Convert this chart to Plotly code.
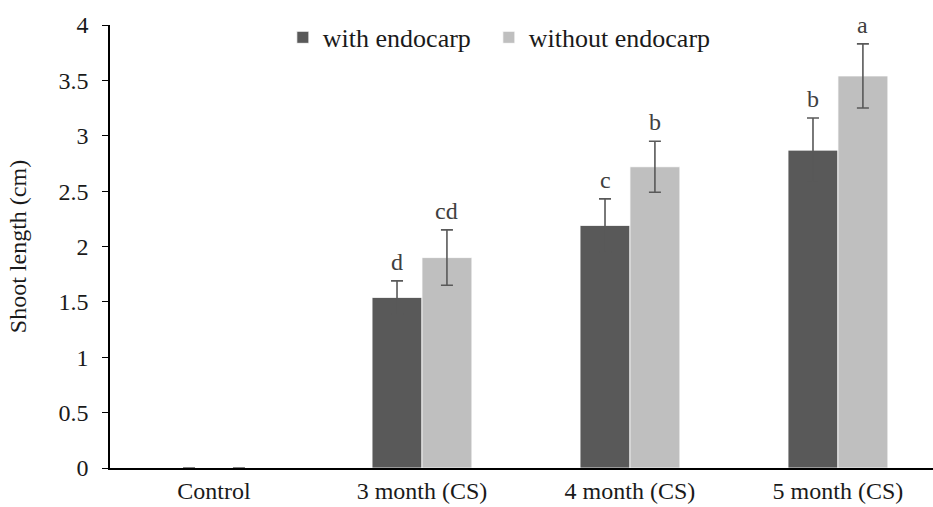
import plotly.graph_objects as go

# Shoot length by cold-stratification period, seeds with and without endocarp
categories = ["Control", "3 month (CS)", "4 month (CS)", "5 month (CS)"]
with_endocarp = [0.0, 1.54, 2.19, 2.87]
with_endocarp_err = [0.0, 0.15, 0.24, 0.29]
without_endocarp = [0.0, 1.90, 2.72, 3.54]
without_endocarp_err = [0.0, 0.25, 0.23, 0.29]
with_letters = ["", "d", "c", "b"]
without_letters = ["", "cd", "b", "a"]
series_names = ["with endocarp", "without endocarp"]

FONT = "Liberation Serif"
DARK = "#595959"
LIGHT = "#BFBFBF"
TEXT = "#1a1a1a"
BARGAP = 0.52
PAD = "\u00a0\u00a0"  # extra gap between legend entries

x_idx = list(range(len(categories)))
half = (1 - BARGAP) / 4  # half of one bar's width in category units

fig = go.Figure()
fig.add_trace(go.Bar(
    x=x_idx, y=with_endocarp, name=series_names[0] + PAD,
    marker=dict(color=DARK, line=dict(color="white", width=0.8)),
    error_y=dict(type="data", array=with_endocarp_err, visible=True,
                 color=DARK, thickness=1.6, width=6),
))
fig.add_trace(go.Bar(
    x=x_idx, y=without_endocarp, name=series_names[1],
    marker=dict(color=LIGHT, line=dict(color="white", width=0.8)),
    error_y=dict(type="data", array=without_endocarp_err, visible=True,
                 color=DARK, thickness=1.6, width=6),
))

# significance letters above the error bars
annotations = []
for i in x_idx:
    for letters, vals, errs, off in (
        (with_letters, with_endocarp, with_endocarp_err, -half),
        (without_letters, without_endocarp, without_endocarp_err, half),
    ):
        if letters[i]:
            annotations.append(dict(
                x=i + off, y=vals[i] + errs[i], xref="x", yref="y",
                text=letters[i], showarrow=False, yanchor="bottom", yshift=4,
                font=dict(family=FONT, size=24, color="#404040"),
            ))

fig.update_layout(
    width=933, height=507,
    margin=dict(l=110, r=0, t=25, b=39),
    paper_bgcolor="white", plot_bgcolor="white",
    barmode="group", bargap=BARGAP, bargroupgap=0,
    font=dict(family=FONT, size=24, color=TEXT),
    legend=dict(orientation="h", x=0.21, y=1.025, xanchor="left", yanchor="top",
                bgcolor="rgba(0,0,0,0)",
                font=dict(family=FONT, size=26, color=TEXT),
                traceorder="normal"),
    annotations=annotations,
    xaxis=dict(
        tickmode="array", tickvals=x_idx, ticktext=categories,
        tickfont=dict(family=FONT, size=24, color=TEXT),
        range=[-0.5, 3.457], showline=True, linecolor="black", linewidth=1.5,
        ticks="", showgrid=False, zeroline=False,
    ),
    yaxis=dict(
        range=[0, 4], dtick=0.5, tick0=0, showline=True, linecolor="black",
        linewidth=1.5, ticks="outside", ticklen=6, tickcolor="black",
        tickfont=dict(family=FONT, size=24, color=TEXT),
        ticklabelstandoff=9,
        showgrid=False, zeroline=False,
        title=dict(text="Shoot length (cm)",
                   font=dict(family=FONT, size=24, color=TEXT), standoff=25),
    ),
)

fig.write_html("out.html")
